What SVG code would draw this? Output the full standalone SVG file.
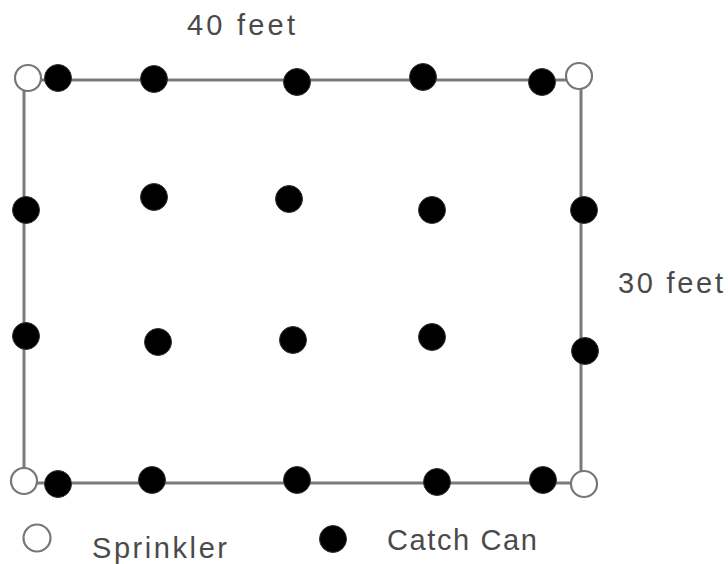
<svg xmlns="http://www.w3.org/2000/svg" width="728" height="564" viewBox="0 0 728 564">
<style>
.edge{stroke:#7a7a7a;stroke-width:3;fill:none}
.spr{fill:#fff;stroke:#777;stroke-width:2.2}
.can{fill:#000;stroke:#333;stroke-width:1}
.lbl{font-family:"Liberation Sans",Arial,sans-serif;font-size:29px;fill:#4a4a4a}
</style>
<rect width="728" height="564" fill="#fff"/>
<g id="connectors">
<line class="edge" x1="28" y1="80" x2="579" y2="80"/>
<line class="edge" x1="24" y1="80" x2="24" y2="481"/>
<line class="edge" x1="581" y1="76" x2="581" y2="484"/>
<line class="edge" x1="24" y1="483" x2="584" y2="483"/>
</g>
<g id="sprinkler-tl"><circle class="spr" cx="28" cy="78" r="13"/></g>
<g id="sprinkler-tr"><circle class="spr" cx="579" cy="76" r="13"/></g>
<g id="sprinkler-bl"><circle class="spr" cx="24" cy="481" r="13"/></g>
<g id="sprinkler-br"><circle class="spr" cx="584" cy="484" r="13"/></g>
<g id="cans-row1">
<circle class="can" cx="58" cy="78" r="13.5"/>
<circle class="can" cx="154" cy="79" r="13.5"/>
<circle class="can" cx="297" cy="82" r="13.5"/>
<circle class="can" cx="423" cy="77" r="13.5"/>
<circle class="can" cx="542" cy="82" r="13.5"/>
</g>
<g id="cans-row2">
<circle class="can" cx="26" cy="210" r="13.5"/>
<circle class="can" cx="154" cy="197" r="13.5"/>
<circle class="can" cx="289" cy="199" r="13.5"/>
<circle class="can" cx="432" cy="210" r="13.5"/>
<circle class="can" cx="584" cy="210" r="13.5"/>
</g>
<g id="cans-row3">
<circle class="can" cx="26" cy="336" r="13.5"/>
<circle class="can" cx="158" cy="342" r="13.5"/>
<circle class="can" cx="293" cy="340" r="13.5"/>
<circle class="can" cx="432" cy="337" r="13.5"/>
<circle class="can" cx="585" cy="351" r="13.5"/>
</g>
<g id="cans-row4">
<circle class="can" cx="58" cy="484" r="13.5"/>
<circle class="can" cx="152" cy="480" r="13.5"/>
<circle class="can" cx="297" cy="480" r="13.5"/>
<circle class="can" cx="437" cy="482" r="13.5"/>
<circle class="can" cx="543" cy="480" r="13.5"/>
</g>
<g id="label-40"><text class="lbl" x="187" y="35" textLength="108">40 feet</text></g>
<g id="label-30"><text class="lbl" x="618" y="293" textLength="105">30 feet</text></g>
<g id="legend-sprinkler">
<circle class="spr" cx="37" cy="538" r="13.5"/>
<text class="lbl" x="92" y="558" textLength="135">Sprinkler</text>
</g>
<g id="legend-can">
<circle class="can" cx="333" cy="539" r="13.5"/>
<text class="lbl" x="387" y="550" textLength="150">Catch Can</text>
</g>
</svg>
